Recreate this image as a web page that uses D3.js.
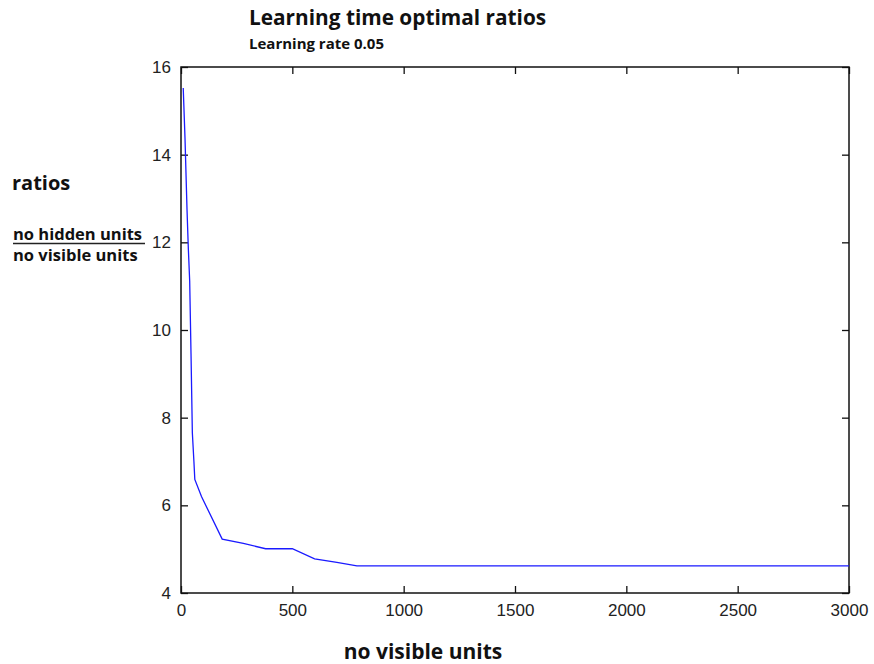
<!DOCTYPE html>
<html>
<head>
<meta charset="utf-8">
<script src="https://cdn.jsdelivr.net/npm/d3@7"></script>
<style>
  body { margin: 0; background: #fff; }
  svg { display: block; }
  .tick text { font-family: "Liberation Sans", Arial, sans-serif; font-size: 17px; fill: #222; }
  .lbl { font-family: "Open Sans", "Noto Sans", sans-serif; font-weight: bold; fill: #111; }
</style>
</head>
<body>
<svg></svg>
<script>
// no visible units vs ratio
var visibleUnits = [10, 18, 27, 33, 39, 45, 51, 58, 62, 92, 185, 280, 380, 500, 600, 700, 790, 3000];
var ratios = [15.52, 14.37, 12.75, 11.85, 11.12, 9.45, 7.65, 7.0, 6.59, 6.2, 5.23, 5.13, 5.01, 5.01, 4.78, 4.70, 4.62, 4.62];
var xTicks = [0, 500, 1000, 1500, 2000, 2500, 3000];
var yTicks = [4, 6, 8, 10, 12, 14, 16];

var width = 874, height = 664;
var svg = d3.select("svg").attr("width", width).attr("height", height);

// plot box (note: "top" is reserved on window, so use mTop)
var mLeft = 181, mRight = 849, mTop = 67, mBottom = 593;

var x = d3.scaleLinear().domain([0, 3000]).range([mLeft, mRight]);
var y = d3.scaleLinear().domain([4, 16]).range([mBottom, mTop]);

var data = visibleUnits.map(function (d, i) { return [d, ratios[i]]; });

// axes, ticks pointing inward on all four sides
function styleAxis(g) {
    g.attr("font-family", null).attr("font-size", null);
    g.select(".domain").remove();
    g.selectAll(".tick line").attr("stroke", "#111").attr("stroke-width", 1.3);
}
svg.append("g").attr("transform", "translate(0," + mBottom + ")")
    .call(d3.axisBottom(x).tickValues(xTicks).tickSizeInner(-7).tickSizeOuter(0).tickPadding(11).tickFormat(d3.format("d")))
    .call(styleAxis);
svg.append("g").attr("transform", "translate(0," + mTop + ")")
    .call(d3.axisTop(x).tickValues(xTicks).tickSizeInner(-7).tickSizeOuter(0).tickFormat(""))
    .call(styleAxis);
svg.append("g").attr("transform", "translate(" + mLeft + ",0)")
    .call(d3.axisLeft(y).tickValues(yTicks).tickSizeInner(-7).tickSizeOuter(0).tickPadding(10))
    .call(styleAxis);
svg.append("g").attr("transform", "translate(" + mRight + ",0)")
    .call(d3.axisRight(y).tickValues(yTicks).tickSizeInner(-7).tickSizeOuter(0).tickFormat(""))
    .call(styleAxis);

svg.append("rect")
    .attr("x", mLeft).attr("y", mTop)
    .attr("width", mRight - mLeft).attr("height", mBottom - mTop)
    .attr("fill", "none").attr("stroke", "#111").attr("stroke-width", 1.5);

var line = d3.line().x(function (d) { return x(d[0]); }).y(function (d) { return y(d[1]); });
svg.append("path")
    .datum(data)
    .attr("d", line)
    .attr("fill", "none")
    .attr("stroke", "#1a1aff")
    .attr("stroke-width", 1.3);

// titles and labels
svg.append("text").attr("class", "lbl").attr("x", 249).attr("y", 25)
    .attr("font-size", 20.8).text("Learning time optimal ratios");
svg.append("text").attr("class", "lbl").attr("x", 249).attr("y", 49)
    .attr("font-size", 15).text("Learning rate 0.05");
svg.append("text").attr("class", "lbl").attr("x", 12).attr("y", 190)
    .attr("font-size", 20).text("ratios");
svg.append("text").attr("class", "lbl").attr("x", 13).attr("y", 240)
    .attr("font-size", 16.5).attr("font-weight", 600).text("no hidden units");
svg.append("line").attr("x1", 13).attr("x2", 145).attr("y1", 243.5).attr("y2", 243.5)
    .attr("stroke", "#222").attr("stroke-width", 1.3);
svg.append("text").attr("class", "lbl").attr("x", 13).attr("y", 261)
    .attr("font-size", 16.5).attr("font-weight", 600).text("no visible units");
svg.append("text").attr("class", "lbl").attr("x", 423).attr("y", 659)
    .attr("text-anchor", "middle").attr("font-size", 21).text("no visible units");
</script>
</body>
</html>
